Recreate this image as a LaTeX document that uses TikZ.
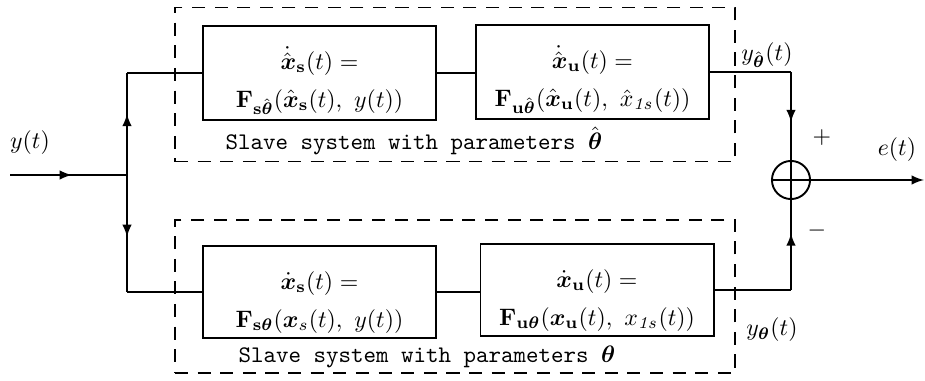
\documentclass[tikz,border=0pt]{standalone}
\usepackage{amsmath}
\usepackage{amssymb}
\usetikzlibrary{decorations.markings}

\tikzset{
  block/.style={draw, thick, minimum width=97.9pt, minimum height=38.6pt, align=center, inner sep=2pt},
  slavebox/.style={draw, thick, dash pattern=on 5.5pt off 4pt, minimum width=235.2pt, minimum height=64.7pt},
  midarrow/.style={postaction={decorate}, decoration={markings, mark=at position #1 with {\arrow{latex}}}}
}
\newcommand{\blockstrut}{\rule{0pt}{16pt}}

\begin{document}
\begin{tikzpicture}[x=0.42pt, y=-0.42pt, thick]
        \useasboundingbox (0,0) rectangle (925,381);
        % dashed frames
        \node[slavebox] (topframe) at (455,84.5) {};
        \node[slavebox, minimum height=64.3pt] (botframe) at (455,296.5) {};
        \node[font=\ttfamily] (toptxt) at (414,141) {Slave system with parameters $\hat{\boldsymbol{\theta}}$};
        \node[font=\ttfamily] (bottxt) at (427,357) {Slave system with parameters $\boldsymbol{\theta}$};
        % blocks
        \node[block] (topS) at (319.5,73) {\blockstrut$\dot{\hat{\boldsymbol{x}}}_{\mathbf{s}}(t) =$\\[4pt]$\mathbf{F}_{\mathbf{s}\hat{\boldsymbol{\theta}}}(\hat{\boldsymbol{x}}_{\mathbf{s}}(t),\ y(t))$};
        \node[block] (topU) at (592.5,72) {\blockstrut$\dot{\hat{\boldsymbol{x}}}_{\mathbf{u}}(t) =$\\[4pt]$\mathbf{F}_{\mathbf{u}\hat{\boldsymbol{\theta}}}(\hat{\boldsymbol{x}}_{\mathbf{u}}(t),\ \hat{x}_{\mathit{1s}}(t))$};
        \node[block] (botS) at (319.5,292) {\blockstrut$\dot{\boldsymbol{x}}_{\mathbf{s}}(t) =$\\[4pt]$\mathbf{F}_{\mathbf{s}\boldsymbol{\theta}}(\boldsymbol{x}_{s}(t),\ y(t))$};
        \node[block] (botU) at (597,290) {\blockstrut$\dot{\boldsymbol{x}}_{\mathbf{u}}(t) =$\\[4pt]$\mathbf{F}_{\mathbf{u}\boldsymbol{\theta}}(\boldsymbol{x}_{\mathbf{u}}(t),\ x_{\mathit{1s}}(t))$};
        \node[draw, thick, circle, minimum size=16pt, inner sep=0pt] (sum) at (791,180) {};
        % points on the wires
        \coordinate (yin) at (10,175);
        \coordinate (split) at (127,175);
        \coordinate (eout) at (924,180);
        % wires
        \draw[midarrow=0.53] (yin) -- (split);
        \draw[midarrow=0.6] (split) -- (split |- topS.west);
        \draw (split |- topS.west) -- (topS.west);
        \draw[midarrow=0.53] (split) -- (split |- botS.west);
        \draw (split |- botS.west) -- (botS.west);
        \draw (topS.east) -- (topS.east -| topU.west);
        \draw (botS.east) -- (botS.east -| botU.west);
        \draw (topU.east) -- (sum.north |- topU.east);
        \draw[midarrow=0.57] (sum.north |- topU.east) -- (sum.north);
        \draw (botU.east) -- (sum.south |- botU.east);
        \draw[midarrow=0.63] (sum.south |- botU.east) -- (sum.south);
        \draw (sum.north) -- (sum.south);
        \draw (sum.west) -- (sum.east);
        \draw[-latex] (sum.east) -- (eout);
        % labels
        \node (ylab) at (30,143) {$y(t)$};
        \node (yhatlab) at (767,55) {$y_{\hat{\boldsymbol{\theta}}}(t)$};
        \node (ylabb) at (772,330) {$y_{\boldsymbol{\theta}}(t)$};
        \node (plus) at (822,138) {$+$};
        \node (minus) at (817,231) {$-$};
        \node (elab) at (897,150) {$e(t)$};
    \end{tikzpicture}
\end{document}
